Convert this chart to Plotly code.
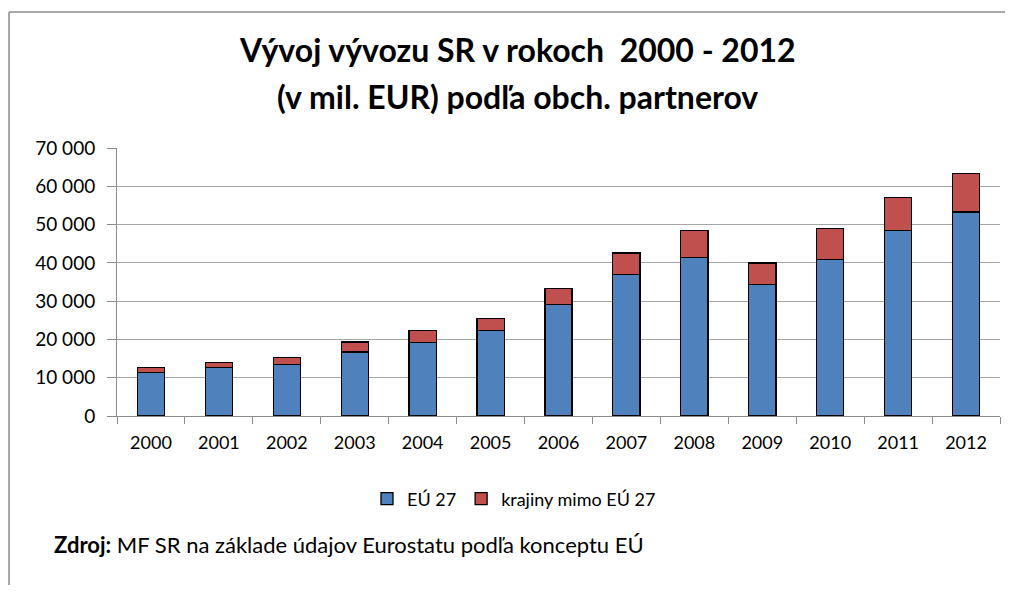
import plotly.graph_objects as go

years = ["2000", "2001", "2002", "2003", "2004", "2005", "2006",
         "2007", "2008", "2009", "2010", "2011", "2012"]
eu27 = [11300, 12700, 13500, 16700, 19200, 22300, 29100,
        36900, 41400, 34400, 40900, 48400, 53300]
non_eu = [1400, 1300, 1800, 2600, 3100, 3200, 4200,
          5700, 7100, 5600, 8000, 8700, 10100]
y_ticks = [0, 10000, 20000, 30000, 40000, 50000, 60000, 70000]

FONT = "Lato, 'Open Sans', sans-serif"

fig = go.Figure()
fig.add_trace(go.Bar(
    x=years, y=eu27, name="EÚ 27",
    marker=dict(color="#4F81BD", line=dict(color="#000000", width=1.3)),
))
fig.add_trace(go.Bar(
    x=years, y=non_eu, name="krajiny mimo EÚ 27",
    marker=dict(color="#C0504D", line=dict(color="#000000", width=1.3)),
))

OFF = 8  # page body margin
W, H = 1013 - 2 * OFF, 593 - 2 * OFF
# target plot area in window pixels: x 117..1000, y 148..416
ml = 117 - OFF
mt = 148 - OFF
mr = W - (1000 - OFF)
mb = H - (416 - OFF)
pw, ph = W - ml - mr, H - mt - mb


def px(x):
    return (x - OFF - ml) / pw


def py(y):
    return (H - mb - (y - OFF)) / ph


border = dict(color="#8c8c8c", width=1.5)

fig.update_layout(
    width=W, height=H,
    barmode="stack", bargap=0.6,
    separators=", ",
    paper_bgcolor="white", plot_bgcolor="white",
    margin=dict(l=ml, r=mr, t=mt, b=mb),
    font=dict(family=FONT, size=18, color="#000000"),
    showlegend=True,
    legend=dict(orientation="h", x=px(514), xanchor="center",
                y=py(499), yanchor="middle",
                font=dict(size=18), traceorder="normal",
                itemwidth=30),
    xaxis=dict(
        type="category", showgrid=False,
        showline=True, linecolor="#8c8c8c", linewidth=1,
        ticks="outside", tickson="boundaries", ticklen=7,
        tickcolor="#8c8c8c", tickfont=dict(size=18),
        ticklabelstandoff=10,
    ),
    yaxis=dict(
        range=[0, 70000], tickvals=y_ticks, tickformat=",d",
        showgrid=True, gridcolor="#a6a6a6", gridwidth=1,
        showline=True, linecolor="#8c8c8c", linewidth=1,
        ticks="outside", ticklen=9, tickcolor="#8c8c8c",
        tickfont=dict(size=19), zeroline=False,
        ticklabelstandoff=8,
    ),
    shapes=[
        dict(type="line", xref="paper", yref="paper",
             x0=px(9), x1=px(1013), y0=py(12), y1=py(12), line=border),
        dict(type="line", xref="paper", yref="paper",
             x0=px(9), x1=px(9), y0=py(12), y1=py(593), line=border),
    ],
    annotations=[
        dict(text="<b>Vývoj vývozu SR v rokoch  2000 - 2012</b>",
             xref="paper", yref="paper", x=px(517), y=py(50),
             xanchor="center", yanchor="middle", showarrow=False,
             font=dict(size=32)),
        dict(text="<b>(v mil. EUR) podľa obch. partnerov</b>",
             xref="paper", yref="paper", x=px(517), y=py(97),
             xanchor="center", yanchor="middle", showarrow=False,
             font=dict(size=32)),
        dict(text="<b>Zdroj:</b> MF SR na základe údajov Eurostatu podľa konceptu EÚ",
             xref="paper", yref="paper", x=px(52), y=py(544),
             xanchor="left", yanchor="middle", showarrow=False,
             font=dict(size=22)),
    ],
)

fig.write_html("out.html")
